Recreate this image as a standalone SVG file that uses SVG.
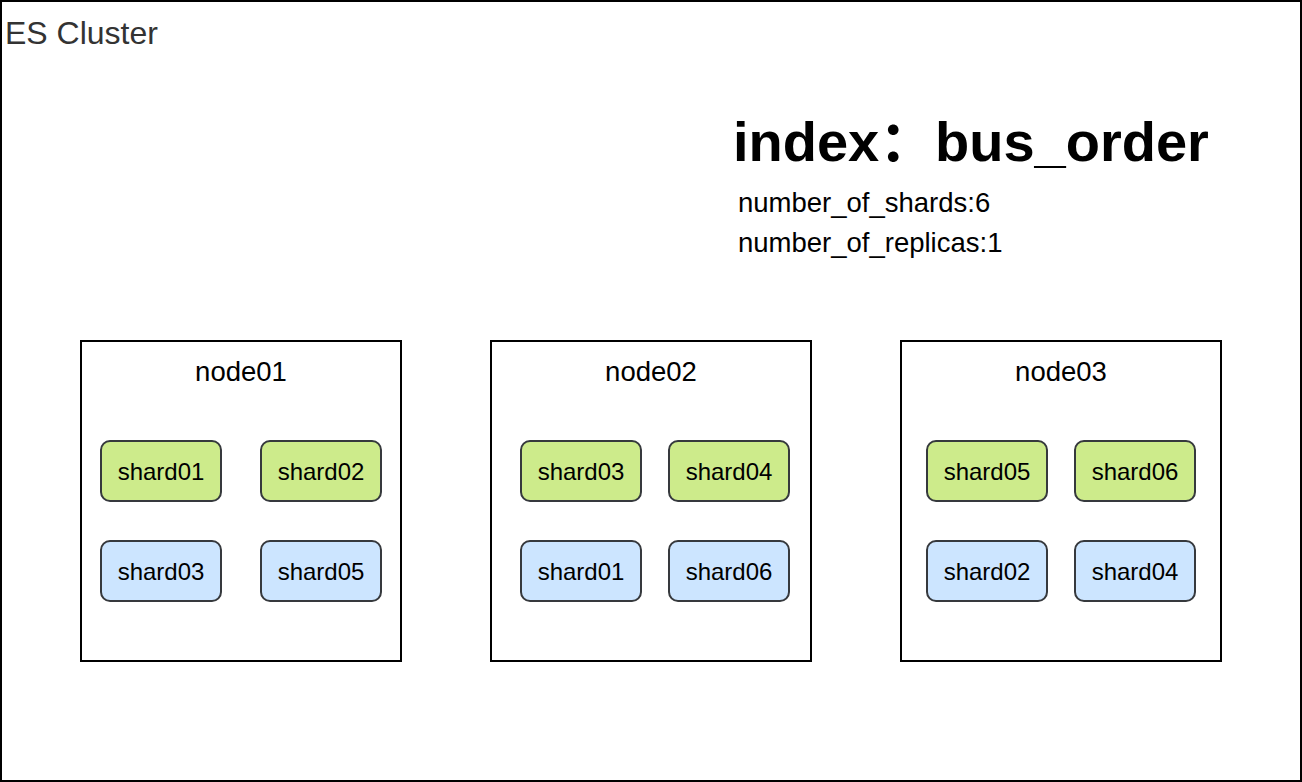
<svg xmlns="http://www.w3.org/2000/svg" width="1302" height="782" viewBox="0 0 1302 782">
<style>
text{font-family:"Liberation Sans",Arial,"Noto Sans CJK SC",sans-serif;}
.node{fill:#ffffff;stroke:#000000;stroke-width:2;}
.pri{fill:#cdeb8b;stroke:#36393d;stroke-width:2;}
.rep{fill:#cce5ff;stroke:#36393d;stroke-width:2;}
.lbl{font-size:24px;fill:#000000;text-anchor:middle;}
.nlbl{font-size:27.5px;fill:#000000;text-anchor:middle;}
.sub{font-size:27.5px;fill:#000000;}
</style>
<rect width="1302" height="782" fill="#ffffff"/>
<g id="cluster">
<rect x="1" y="1" width="1300" height="780" fill="#ffffff" stroke="#000000" stroke-width="2"/>
<text x="5" y="44" font-size="32" fill="#333333">ES Cluster</text>
</g>
<g id="title">
<text x="733" y="161" font-size="56" font-weight="bold" fill="#000000">index<tspan font-family="'Noto Sans CJK SC',sans-serif">：</tspan><tspan x="935">bus_order</tspan></text>
<text class="sub" x="738" y="212">number_of_shards:6</text>
<text class="sub" x="738" y="252">number_of_replicas:1</text>
</g>
<g id="node01">
<rect class="node" x="81" y="341" width="320" height="320"/>
<text class="nlbl" x="241" y="381">node01</text>
<g id="n1-shard01"><rect class="pri" x="101" y="441" width="120" height="60" rx="9"/><text class="lbl" x="161" y="480">shard01</text></g>
<g id="n1-shard02"><rect class="pri" x="261" y="441" width="120" height="60" rx="9"/><text class="lbl" x="321" y="480">shard02</text></g>
<g id="n1-shard03"><rect class="rep" x="101" y="541" width="120" height="60" rx="9"/><text class="lbl" x="161" y="580">shard03</text></g>
<g id="n1-shard05"><rect class="rep" x="261" y="541" width="120" height="60" rx="9"/><text class="lbl" x="321" y="580">shard05</text></g>
</g>
<g id="node02">
<rect class="node" x="491" y="341" width="320" height="320"/>
<text class="nlbl" x="651" y="381">node02</text>
<g id="n2-shard03"><rect class="pri" x="521" y="441" width="120" height="60" rx="9"/><text class="lbl" x="581" y="480">shard03</text></g>
<g id="n2-shard04"><rect class="pri" x="669" y="441" width="120" height="60" rx="9"/><text class="lbl" x="729" y="480">shard04</text></g>
<g id="n2-shard01"><rect class="rep" x="521" y="541" width="120" height="60" rx="9"/><text class="lbl" x="581" y="580">shard01</text></g>
<g id="n2-shard06"><rect class="rep" x="669" y="541" width="120" height="60" rx="9"/><text class="lbl" x="729" y="580">shard06</text></g>
</g>
<g id="node03">
<rect class="node" x="901" y="341" width="320" height="320"/>
<text class="nlbl" x="1061" y="381">node03</text>
<g id="n3-shard05"><rect class="pri" x="927" y="441" width="120" height="60" rx="9"/><text class="lbl" x="987" y="480">shard05</text></g>
<g id="n3-shard06"><rect class="pri" x="1075" y="441" width="120" height="60" rx="9"/><text class="lbl" x="1135" y="480">shard06</text></g>
<g id="n3-shard02"><rect class="rep" x="927" y="541" width="120" height="60" rx="9"/><text class="lbl" x="987" y="580">shard02</text></g>
<g id="n3-shard04"><rect class="rep" x="1075" y="541" width="120" height="60" rx="9"/><text class="lbl" x="1135" y="580">shard04</text></g>
</g>
<g id="connectors"></g>
</svg>
